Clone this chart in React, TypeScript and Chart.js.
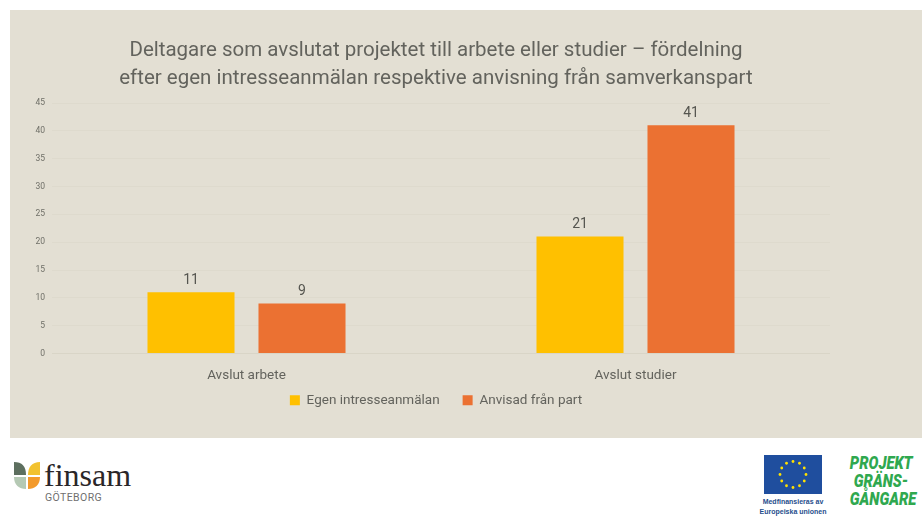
import React, { useEffect, useRef } from "react";
import { Chart, registerables } from "chart.js";

Chart.register(...registerables);

const titleLines = [
  "Deltagare som avslutat projektet till arbete eller studier – fördelning",
  "efter egen intresseanmälan respektive anvisning från samverkanspart",
];
const categories = ["Avslut arbete", "Avslut studier"];
const ownApplication = [11, 21];
const partReferral = [9, 41];
const seriesNames = ["Egen intresseanmälan", "Anvisad från part"];
const FONT = 'Roboto, sans-serif';
const TEXT = "#63635d";

const dataLabels = {
  id: "dataLabels",
  afterDatasetsDraw(chart: any) {
    const { ctx } = chart;
    ctx.save();
    ctx.font = `14px ${FONT}`;
    ctx.fillStyle = "#55554f";
    ctx.textAlign = "center";
    ctx.textBaseline = "bottom";
    chart.data.datasets.forEach((ds: any, i: number) => {
      chart.getDatasetMeta(i).data.forEach((bar: any, j: number) => {
        ctx.fillText(String(ds.data[j]), bar.x, bar.y - 5);
      });
    });
    ctx.restore();
  },
};

const stars = Array.from({ length: 12 }, (_, i) => i);

export default function App() {
  const ref = useRef<HTMLCanvasElement>(null);
  useEffect(() => {
    document.body.style.margin = "0";
    const chart = new Chart(ref.current!, {
      type: "bar",
      data: {
        labels: categories,
        datasets: [
          { label: seriesNames[0], data: ownApplication, backgroundColor: "#FFC000" },
          { label: seriesNames[1], data: partReferral, backgroundColor: "#EB7132" },
        ],
      },
      plugins: [dataLabels],
      options: {
        animation: false,
        responsive: false,
        layout: { padding: { left: 32, right: 0, top: 0, bottom: 21 } },
        datasets: { bar: { categoryPercentage: 0.5707, barPercentage: 0.784 } },
        plugins: {
          tooltip: { enabled: false },
          title: {
            display: true,
            text: titleLines,
            color: TEXT,
            font: { family: FONT, size: 20.5, weight: "normal", lineHeight: 1.366 },
            padding: { top: 27, bottom: 10 },
          },
          legend: {
            position: "bottom",
            labels: {
              color: TEXT,
              font: { family: FONT, size: 13.5 },
              boxWidth: 10,
              boxHeight: 10,
              padding: 23,
            },
          },
        },
        scales: {
          x: {
            grid: { display: false },
            border: { color: "#d9d5c7" },
            ticks: { color: TEXT, font: { family: FONT, size: 13.5 }, padding: 6 },
            afterFit: (s: any) => {
              s.height = 17;
              s._computeLabelArea = () => undefined;
            },
          },
          y: {
            min: 0,
            max: 45,
            border: { display: false },
            grid: { color: "#dedacd", drawTicks: false },
            ticks: {
              stepSize: 5,
              color: "#6f6f67",
              font: { family: FONT, size: 8.5 },
              padding: 7,
            },
            afterFit: (s: any) => {
              s.width = 10;
              s._computeLabelArea = () => undefined;
            },
          },
        },
      } as any,
    });
    return () => chart.destroy();
  }, []);

  return (
    <div style={{ position: "fixed", left: 0, top: 0, width: 922, height: 520, background: "#fff", overflow: "hidden" }}>
      <div style={{ position: "absolute", left: 10, top: 10, width: 912, height: 428, background: "#E3DFD3" }} />
      <canvas ref={ref} width={820} height={428} style={{ position: "absolute", left: 10, top: 10 }} />

      <svg style={{ position: "absolute", left: 13, top: 461 }} width={30} height={30} viewBox="0 0 30 30">
        <path d="M1 1 C9 1 13 5 13 14 L1 14 Z" fill="#5d6f5f" />
        <path d="M27 1 C19 1 15 6 15 14 L27 14 Z" fill="#f2c230" />
        <path d="M1 16 L13 16 L13 28 C6 28 1 24 1 16 Z" fill="#b5c9b4" />
        <path d="M15 16 L27 16 C27 24 22 28 15 28 Z" fill="#f39a2b" />
      </svg>
      <div style={{ position: "absolute", left: 44, top: 455, fontFamily: '"Liberation Serif", serif', fontSize: 32, lineHeight: "40px", color: "#2a2628" }}>finsam</div>
      <div style={{ position: "absolute", left: 45, top: 491, fontFamily: FONT, fontSize: 10.5, lineHeight: "13px", letterSpacing: 0.4, color: "#6f6f6f" }}>GÖTEBORG</div>

      <svg style={{ position: "absolute", left: 764, top: 455 }} width={58} height={39} viewBox="0 0 58 39">
        <rect width={58} height={39} fill="#1F4E9E" />
        {stars.map((i) => (
          <circle
            key={i}
            cx={29 + 13 * Math.sin((i * Math.PI) / 6)}
            cy={19.5 - 13 * Math.cos((i * Math.PI) / 6)}
            r={1.4}
            fill="#FFE100"
          />
        ))}
      </svg>
      <div style={{ position: "absolute", left: 750, top: 497, width: 86, textAlign: "center", fontFamily: '"Liberation Sans", sans-serif', fontSize: 7, fontWeight: 700, lineHeight: "9.5px", color: "#1F4E8C" }}>
        Medfinansieras av<br />Europeiska unionen
      </div>
      <div style={{ position: "absolute", left: 843, top: 454, width: 76, textAlign: "center", fontFamily: FONT, fontStyle: "italic", fontWeight: 900, fontSize: 18, lineHeight: "18px", color: "#2FA84F", transform: "scaleX(0.82)" }}>
        PROJEKT<br />GRÄNS-<br />GÅNGARE
      </div>
    </div>
  );
}
